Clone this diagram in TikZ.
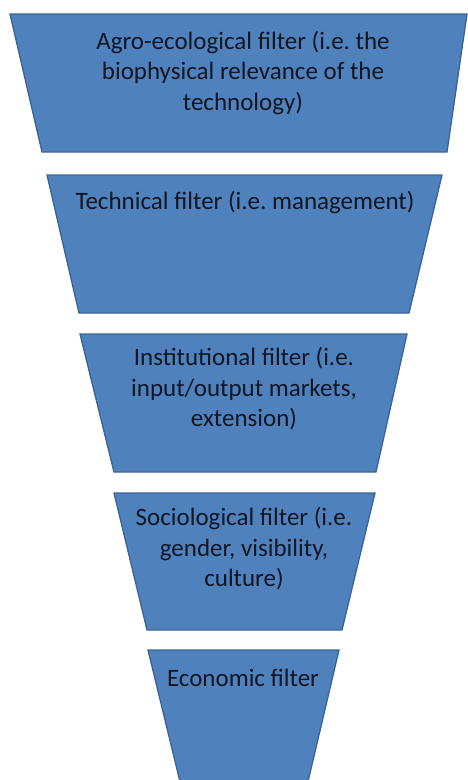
\documentclass[tikz,border=0pt]{standalone}
\usepackage{fontspec}
\setmainfont{Carlito}
\frenchspacing
\begin{document}
\begin{tikzpicture}[x=1pt,y=-1pt,
  funnel/.style={fill=fillblue,draw=edgeblue,line width=1.3pt,line join=miter},
  lbl/.style={align=center,font=\fontsize{25}{30.5}\selectfont,text=textdark,inner sep=0pt}]
\definecolor{fillblue}{HTML}{4F81BD}
\definecolor{edgeblue}{HTML}{3A6496}
\definecolor{textdark}{HTML}{111622}
\useasboundingbox (0,0) rectangle (468,780);
\begin{scope}
\clip (0,0) rectangle (468,780);
\draw[funnel] (10,14) -- (467,14) -- (447,152) -- (42,152) -- cycle;
\draw[funnel] (47,175) -- (442,175) -- (409,313) -- (79,313) -- cycle;
\draw[funnel] (80,334) -- (407,334) -- (376,472) -- (114,472) -- cycle;
\draw[funnel] (114,493) -- (375,493) -- (342,630) -- (147,630) -- cycle;
\draw[funnel] (148,650) -- (339,650) -- (306,790) -- (182,790) -- cycle;
\end{scope}
\node[lbl] (agro) at (243,73) {Agro-ecological filter (i.e. the\\biophysical relevance of the\\technology)};
\node[lbl] (tech) at (245,202) {Technical filter (i.e. management)};
\node[lbl] (inst) at (244,389) {Institutional filter (i.e.\\input/output markets,\\extension)};
\node[lbl] (soc) at (244,549) {Sociological filter (i.e.\\gender, visibility,\\culture)};
\node[lbl] (econ) at (243,678) {Economic filter};
\end{tikzpicture}
\end{document}
